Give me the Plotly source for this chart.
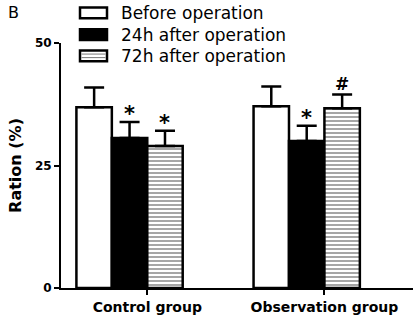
import plotly.graph_objects as go

groups = ["Control group", "Observation group"]
series = ["Before operation", "24h after operation", "72h after operation"]
means = {
    "Before operation": [36.9, 37.1],
    "24h after operation": [30.6, 30.0],
    "72h after operation": [29.0, 36.7],
}
errors = {
    "Before operation": [4.0, 4.0],
    "24h after operation": [3.3, 3.1],
    "72h after operation": [3.1, 2.8],
}
marks = {
    "Before operation": ["", ""],
    "24h after operation": ["*", "*"],
    "72h after operation": ["*", "#"],
}
y_ticks = [0, 25, 50]

FONT = "DejaVu Sans"
pos = list(range(len(groups)))
bar_w = 0.2

styles = {
    "Before operation": dict(color="white"),
    "24h after operation": dict(color="black"),
    "72h after operation": dict(color="white",
                                pattern=dict(shape="-", fgcolor="black", bgcolor="white",
                                             size=4, solidity=0.35)),
}

fig = go.Figure()
for s in series:
    fig.add_trace(go.Bar(
        x=pos, y=means[s], name=s, width=bar_w,
        marker=dict(line=dict(color="black", width=2.5), **styles[s]),
        error_y=dict(type="data", symmetric=False, array=errors[s],
                     arrayminus=[0] * len(groups), color="black",
                     thickness=2.5, width=10),
        showlegend=False,
    ))

# significance marks
for j, s in enumerate(series):
    for i, g in enumerate(groups):
        t = marks[s][i]
        if not t:
            continue
        fig.add_annotation(
            x=pos[i] + (j - 1) * bar_w, y=means[s][i] + errors[s][i],
            text=t, showarrow=False, yanchor="bottom", yshift=(-6 if t == "*" else -2),
            font=dict(family=FONT, size=(21 if t == "*" else 17), color="black",
                      weight="bold"),
        )

# custom legend (paper coords within plot area)
L, T, W, H = 61, 43, 352, 248
def px(x):
    return (x - L) / W
def py(y):
    return (T + H - y) / H

legend_y = [12.5, 34.5, 56]
for s, yc in zip(series, legend_y):
    fill = "black" if s == "24h after operation" else "white"
    fig.add_shape(type="rect", xref="paper", yref="paper",
                  x0=px(80), x1=px(107), y0=py(yc - 5.5), y1=py(yc + 5.5),
                  line=dict(color="black", width=2.5), fillcolor=fill, layer="above")
    if s == "72h after operation":
        for dy in (-1.8, 1.8):
            fig.add_shape(type="line", xref="paper", yref="paper",
                          x0=px(81.5), x1=px(105.5), y0=py(yc + dy), y1=py(yc + dy),
                          line=dict(color="#777", width=1), layer="above")
    fig.add_annotation(xref="paper", yref="paper", x=px(119), y=py(yc),
                       xanchor="left", yanchor="middle", text=s, showarrow=False,
                       font=dict(family=FONT, size=17, color="black"))

fig.add_annotation(xref="paper", yref="paper", x=px(6), y=py(12), xanchor="left",
                   yanchor="middle", text="B", showarrow=False,
                   font=dict(family=FONT, size=16, color="black"))

fig.update_layout(
    width=420, height=322,
    margin=dict(l=L, r=420 - L - W, t=T, b=322 - T - H),
    paper_bgcolor="white", plot_bgcolor="white",
    barmode="group", bargap=0.4, bargroupgap=0,
    font=dict(family=FONT, color="black"),
)
fig.update_xaxes(
    range=[-0.387, 1.6], tickvals=[p + bar_w / 2 for p in pos], ticktext=groups,
    ticks="outside", ticklen=5, tickwidth=2, tickcolor="black",
    showline=True, linecolor="black", linewidth=2, showgrid=False, zeroline=False,
    tickfont=dict(family=FONT, size=14, color="black", weight="bold"),
)
fig.update_yaxes(
    range=[0, 50], tickvals=y_ticks, ticktext=[str(v) for v in y_ticks],
    ticks="outside", ticklen=5, tickwidth=2, tickcolor="black",
    showline=True, linecolor="black", linewidth=2, showgrid=False, zeroline=False,
    tickfont=dict(family=FONT, size=12, color="black", weight="bold"),
    title=dict(text="Ration (%)", standoff=9,
               font=dict(family=FONT, size=16, color="black", weight="bold")),
)

fig.write_html("out.html")
